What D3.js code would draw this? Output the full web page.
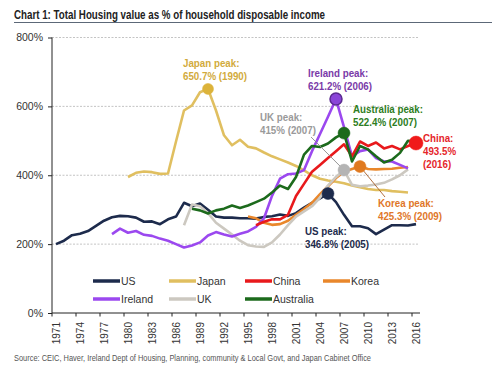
<!DOCTYPE html>
<html>
<head>
<meta charset="utf-8">
<script src="https://cdn.jsdelivr.net/npm/d3@7"></script>
<style>
  body { margin: 0; background: #fff; }
  svg text { font-family: "Liberation Sans", Arial, sans-serif; }
  .narrow { font-family: "Liberation Sans Narrow", "Arial Narrow", "Liberation Sans", sans-serif; }
</style>
</head>
<body>
<div id="chart"></div>
<script>
// categories / tick labels
var years = ["1971","1972","1973","1974","1975","1976","1977","1978","1979","1980",
  "1981","1982","1983","1984","1985","1986","1987","1988","1989","1990",
  "1991","1992","1993","1994","1995","1996","1997","1998","1999","2000",
  "2001","2002","2003","2004","2005","2006","2007","2008","2009","2010",
  "2011","2012","2013","2014","2015","2016"];
var xTickLabels = ["1971","1974","1977","1980","1983","1986","1989","1992","1995",
  "1998","2001","2004","2007","2010","2013","2016"];
var yTickValues = [0, 200, 400, 600, 800];

// series (% of household disposable income), first year + yearly values
var usStart = 1971;
var usValues = [200, 210, 226, 230, 238, 253, 268, 278, 282, 281,
  277, 265, 266, 258, 272, 280, 320, 310, 318, 300,
  280, 277, 277, 275, 275, 274, 279, 281, 286, 282,
  290, 306, 320, 333, 346.8, 322, 285, 252, 252, 246,
  229, 242, 255, 255, 254, 258];

var japanStart = 1980;
var japanValues = [395, 407, 411, 409, 404, 405, 498, 588, 603, 641,
  650.7, 588, 516, 487, 503, 483, 478, 466, 455, 446,
  437, 427, 414, 400, 390, 385, 381, 377, 370, 365,
  360, 357, 357, 354, 352, 350];

var chinaStart = 1996;
var chinaValues = [255, 265, 272, 272, 285, 340, 375, 410, 430, 450,
  470, 490, 455, 498, 485, 495, 478, 485, 475, 485, 493.5];

var koreaStart = 1995;
var koreaValues = [280, 275, 262, 256, 258, 268, 285, 302, 320, 345,
  368, 392, 410, 418, 425.3, 418, 417, 418, 419, 422, 424];

var irelandStart = 1978;
var irelandValues = [229, 245, 233, 238, 227, 224, 216, 210, 200, 190,
  196, 205, 225, 235, 228, 222, 230, 237, 250, 275,
  340, 390, 403, 405, 415, 470, 520, 570, 621.2, 540,
  455, 470, 475, 450, 440, 440, 430, 420];

var ukStart = 1987;
var ukValues = [255, 315, 310, 290, 262, 245, 228, 210, 197, 193,
  192, 205, 228, 255, 280, 295, 310, 335, 370, 395,
  415, 372, 368, 370, 373, 378, 388, 400, 417];

var australiaStart = 1988;
var australiaValues = [303, 298, 289, 298, 303, 312, 305, 312, 322, 332,
  350, 370, 360, 395, 460, 485, 482, 492, 510, 522.4,
  440, 485, 475, 455, 437, 445, 465, 500, 498];

var seriesNames = ["US", "Japan", "China", "Korea", "Ireland", "UK", "Australia"];
var seriesStarts = [usStart, japanStart, chinaStart, koreaStart, irelandStart, ukStart, australiaStart];
var seriesValues = [usValues, japanValues, chinaValues, koreaValues, irelandValues, ukValues, australiaValues];

// peak call-outs
var peakNames = ["Japan", "Ireland", "UK", "Australia", "China", "Korea", "US"];
var peakYears = [1990, 2006, 2007, 2007, 2016, 2009, 2005];
var peakValues = [650.7, 621.2, 415, 522.4, 493.5, 425.3, 346.8];
var peakLabels = [
  ["Japan peak:", "650.7% (1990)"],
  ["Ireland peak:", "621.2% (2006)"],
  ["UK peak:", "415% (2007)"],
  ["Australia peak:", "522.4% (2007)"],
  ["China:", "493.5%", "(2016)"],
  ["Korea peak:", "425.3% (2009)"],
  ["US peak:", "346.8% (2005)"]
];

// styles
var colors = {
  US: "#1d2b4c", Japan: "#e0bf60", China: "#e8191c", Korea: "#e9872b",
  Ireland: "#9b48ef", UK: "#ccc8c0", Australia: "#1c6a1c"
};
var textColors = {
  US: "#1d2b4c", Japan: "#d2ab3c", China: "#e5262a", Korea: "#e0772a",
  Ireland: "#7a3aa8", UK: "#9a9a9a", Australia: "#2d7d22"
};
var dotColors = {
  US: "#1d2b4c", Japan: "#dcb33a", China: "#f01a1a", Korea: "#e07a20",
  Ireland: "#8a45d8", UK: "#b4b4b4", Australia: "#1c6a1c"
};
// label anchor [x, first baseline] and dot radius
var labelPos = {
  Japan: [183, 67], Ireland: [308, 77], UK: [260, 121], Australia: [353, 113],
  China: [423, 141.5], Korea: [378, 206.5], US: [305, 235]
};
var dotR = { Japan: 5.5, Ireland: 6, UK: 6, Australia: 6, China: 7, Korea: 6, US: 6 };

var W = 500, H = 374;
var svg = d3.select("#chart").append("svg")
  .attr("width", W).attr("height", H);

var x = d3.scaleBand().domain(years).range([52, 420]).padding(0);
var y = d3.scaleLinear().domain([0, 800]).range([313, 37.5]);
function xc(yr) { return x(String(yr)) + x.bandwidth() / 2; }

// title
svg.append("text")
  .attr("class", "narrow")
  .attr("x", 14).attr("y", 18.5)
  .attr("font-size", 12.5).attr("font-weight", "bold")
  .attr("fill", "#222")
  .attr("textLength", 311).attr("lengthAdjust", "spacingAndGlyphs")
  .text("Chart 1: Total Housing value as % of household disposable income");
svg.append("line")
  .attr("x1", 14).attr("x2", 492).attr("y1", 22.5).attr("y2", 22.5)
  .attr("stroke", "#5c6878").attr("stroke-width", 1);

// gridlines
svg.append("g").selectAll("line")
  .data(yTickValues.filter(function (d) { return d > 0; }))
  .enter().append("line")
  .attr("x1", 52).attr("x2", 418)
  .attr("y1", function (d) { return y(d); })
  .attr("y2", function (d) { return y(d); })
  .attr("stroke", "#aaa").attr("stroke-width", 0.7)
  .attr("stroke-dasharray", "2,1.5");

// y axis
var yAxis = d3.axisLeft(y).tickValues(yTickValues)
  .tickFormat(function (d) { return d + "%"; })
  .tickSize(4).tickPadding(5);
var gy = svg.append("g").attr("transform", "translate(52,0)").call(yAxis);
gy.select(".domain").attr("stroke", "#222").attr("d", "M0," + y(800) + "V" + y(0));
gy.selectAll(".tick line").attr("stroke", "#222");
gy.selectAll("text").attr("font-size", 10.5).attr("fill", "#333")
  .attr("font-family", "'Liberation Sans', Arial, sans-serif");

// x axis
var gx = svg.append("g");
gx.append("line")
  .attr("x1", 52).attr("x2", 420).attr("y1", y(0)).attr("y2", y(0))
  .attr("stroke", "#222");
gx.selectAll(".xt").data(xTickLabels).enter().append("line")
  .attr("x1", function (d) { return x(d); })
  .attr("x2", function (d) { return x(d); })
  .attr("y1", y(0)).attr("y2", y(0) + 3.5)
  .attr("stroke", "#222");
gx.selectAll(".xl").data(xTickLabels).enter().append("text")
  .attr("transform", function (d) {
    return "translate(" + (xc(d) + 3.5) + "," + (y(0) + 9) + ") rotate(-90)";
  })
  .attr("text-anchor", "end")
  .attr("font-size", 10).attr("fill", "#333")
  .text(function (d) { return d; });

// lines
var line = d3.line()
  .x(function (d) { return xc(d.year); })
  .y(function (d) { return y(d.value); });

var drawOrder = ["Japan", "US", "Korea", "UK", "Ireland", "China", "Australia"];
drawOrder.forEach(function (name) {
  var i = seriesNames.indexOf(name);
  var pts = seriesValues[i].map(function (v, k) {
    return { year: seriesStarts[i] + k, value: v };
  });
  svg.append("path")
    .datum(pts)
    .attr("fill", "none")
    .attr("stroke", colors[name])
    .attr("stroke-width", 2.6)
    .attr("stroke-linejoin", "round")
    .attr("d", line);
});

// connector lines
var ukI = peakNames.indexOf("UK"), koI = peakNames.indexOf("Korea");
svg.append("line")
  .attr("x1", 311).attr("y1", 137)
  .attr("x2", xc(peakYears[ukI])).attr("y2", y(peakValues[ukI]))
  .attr("stroke", "#8a8a8a").attr("stroke-width", 0.9);
svg.append("line")
  .attr("x1", xc(peakYears[koI])).attr("y1", y(peakValues[koI]))
  .attr("x2", 385).attr("y2", 197)
  .attr("stroke", "#a8602a").attr("stroke-width", 0.9);

// peak dots
peakNames.forEach(function (name, i) {
  svg.append("circle")
    .attr("cx", xc(peakYears[i])).attr("cy", y(peakValues[i]))
    .attr("r", dotR[name])
    .attr("fill", dotColors[name])
    .attr("stroke", name === "Ireland" ? "#5a2a90" : dotColors[name])
    .attr("stroke-width", name === "Ireland" ? 1.5 : 0.5);
});

// peak labels (condensed by horizontal scaling, no narrow font installed)
peakNames.forEach(function (name, i) {
  var t = svg.append("g")
    .attr("transform", "translate(" + labelPos[name][0] + "," + labelPos[name][1] + ") scale(0.85,1)")
    .append("text")
    .attr("font-size", 11.5).attr("font-weight", "bold")
    .attr("fill", textColors[name]);
  peakLabels[i].forEach(function (s, k) {
    t.append("tspan")
      .attr("x", 0)
      .attr("y", k * 13.3)
      .text(s);
  });
});

// legend
var legendX = [93, 169, 245, 323];
var legendY = [281, 299];
seriesNames.forEach(function (name, i) {
  var lx = legendX[i % 4], ly = legendY[Math.floor(i / 4)];
  svg.append("line")
    .attr("x1", lx).attr("x2", lx + 27).attr("y1", ly).attr("y2", ly)
    .attr("stroke", colors[name]).attr("stroke-width", 3.5);
  svg.append("text")
    .attr("x", lx + 28).attr("y", ly + 4)
    .attr("font-size", 10.5).attr("fill", "#333")
    .text(name);
});

// source
svg.append("text")
  .attr("class", "narrow")
  .attr("x", 14).attr("y", 361)
  .attr("font-size", 8.5).attr("fill", "#555")
  .attr("textLength", 357).attr("lengthAdjust", "spacingAndGlyphs")
  .text("Source:  CEIC, Haver, Ireland Dept of Housing, Planning, community & Local Govt, and Japan Cabinet Office");
</script>
</body>
</html>
